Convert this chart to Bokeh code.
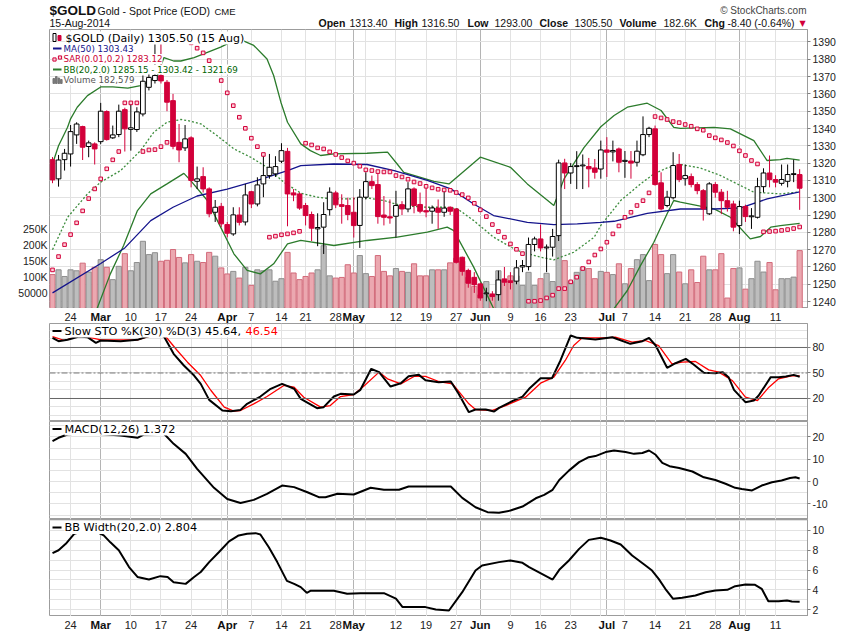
import numpy as np
import pandas as pd
from bokeh.plotting import figure
from bokeh.layouts import column
from bokeh.models import Range1d, LinearAxis, FixedTicker, Grid, Span
from bokeh.core.properties import value
from bokeh.embed import file_html
from bokeh.resources import INLINE

# ---- trading days (Feb 19 .. Aug 15 2014, US holidays removed)
dates = pd.bdate_range("2014-02-19", "2014-08-15")
dates = dates[~dates.isin(pd.to_datetime(["2014-04-18", "2014-05-26", "2014-07-04"]))]

opens = [1322.0, 1310.9, 1322.0, 1325.3, 1336.3, 1341.1, 1329.6, 1331.1, 1332.4, 1349.8,
         1334.6, 1336.5, 1350.9, 1339.5, 1339.4, 1348.4, 1363.8, 1367.7, 1370.6, 1366.7,
         1356.1, 1332.0, 1328.8, 1334.6, 1309.5, 1312.2, 1305.1, 1291.6, 1295.0, 1284.5,
         1279.1, 1290.0, 1286.0, 1303.5, 1296.4, 1308.0, 1312.8, 1313.8, 1321.1, 1326.8,
         1302.8, 1302.2, 1295.5, 1290.3, 1282.0, 1283.0, 1293.1, 1302.8, 1296.0, 1295.5,
         1291.6, 1284.0, 1300.3, 1309.3, 1307.6, 1290.0, 1289.0, 1289.3, 1296.0, 1293.5,
         1305.1, 1296.1, 1292.5, 1292.2, 1294.0, 1291.6, 1294.5, 1293.5, 1265.6, 1258.0,
         1254.0, 1250.2, 1244.5, 1244.4, 1244.0, 1253.1, 1252.0, 1251.8, 1260.0, 1260.2,
         1273.0, 1276.2, 1271.0, 1271.4, 1278.1, 1320.1, 1314.3, 1318.0, 1318.4, 1318.0,
         1317.2, 1316.6, 1327.6, 1326.5, 1328.2, 1321.0, 1321.2, 1320.5, 1324.8, 1336.5,
         1339.8, 1308.6, 1295.5, 1300.0, 1319.2, 1311.0, 1312.2, 1307.6, 1304.1, 1290.7,
         1307.6, 1303.2, 1298.3, 1296.4, 1283.9, 1294.9, 1289.0, 1288.7, 1306.4, 1314.3,
         1310.5, 1308.3, 1309.5, 1313.4, 1313.4]
highs = [1323.5, 1324.7, 1328.2, 1342.0, 1343.6, 1341.6, 1333.0, 1332.0, 1354.8, 1350.5,
         1341.7, 1353.8, 1352.0, 1354.2, 1352.3, 1370.6, 1374.4, 1389.0, 1389.0, 1368.0,
         1360.0, 1342.6, 1342.0, 1335.5, 1318.0, 1317.6, 1306.0, 1298.7, 1297.0, 1286.0,
         1294.5, 1294.5, 1308.0, 1304.0, 1311.8, 1324.4, 1325.3, 1324.0, 1331.5, 1328.8,
         1305.0, 1303.0, 1297.0, 1292.0, 1291.0, 1297.4, 1306.0, 1304.0, 1302.0, 1300.0,
         1300.3, 1305.0, 1314.7, 1312.8, 1315.7, 1301.0, 1299.0, 1304.0, 1298.0, 1309.0,
         1306.0, 1303.0, 1306.0, 1295.5, 1299.0, 1305.0, 1295.0, 1294.0, 1266.0, 1259.0,
         1257.0, 1251.0, 1248.0, 1246.0, 1257.9, 1260.0, 1257.0, 1264.0, 1264.0, 1277.0,
         1277.5, 1284.5, 1273.0, 1282.0, 1322.0, 1322.5, 1320.0, 1326.9, 1325.0, 1323.0,
         1322.4, 1333.0, 1335.0, 1333.0, 1329.0, 1327.0, 1327.0, 1333.0, 1347.0, 1341.0,
         1341.7, 1314.7, 1304.0, 1326.3, 1325.3, 1319.2, 1314.0, 1309.0, 1305.0, 1309.0,
         1309.0, 1305.0, 1304.0, 1298.3, 1298.3, 1296.0, 1294.0, 1311.5, 1317.0, 1324.4,
         1313.0, 1319.2, 1319.2, 1322.0, 1316.5]
lows = [1308.4, 1306.4, 1315.7, 1318.0, 1331.1, 1321.8, 1323.4, 1319.2, 1331.0, 1333.0,
        1334.0, 1335.0, 1326.7, 1327.2, 1338.0, 1347.0, 1362.0, 1366.0, 1366.0, 1350.0,
        1328.0, 1320.5, 1327.0, 1306.0, 1305.0, 1303.0, 1288.7, 1286.0, 1283.0, 1277.2,
        1278.0, 1284.0, 1284.0, 1294.0, 1295.0, 1300.3, 1311.0, 1312.0, 1320.0, 1283.5,
        1298.0, 1293.0, 1284.0, 1275.0, 1272.0, 1267.5, 1289.7, 1294.0, 1285.0, 1287.0,
        1277.0, 1271.0, 1299.0, 1305.0, 1285.0, 1284.0, 1285.0, 1277.0, 1290.0, 1291.6,
        1291.0, 1291.0, 1288.7, 1285.0, 1282.0, 1289.0, 1290.0, 1262.0, 1255.0, 1248.0,
        1245.0, 1240.5, 1240.2, 1240.5, 1240.5, 1249.0, 1247.0, 1250.0, 1257.0, 1258.0,
        1269.0, 1269.0, 1257.0, 1266.0, 1275.0, 1305.0, 1308.0, 1305.0, 1305.0, 1306.0,
        1311.0, 1311.0, 1312.0, 1321.0, 1314.7, 1311.5, 1311.0, 1318.0, 1324.0, 1335.0,
        1307.0, 1292.6, 1294.5, 1299.0, 1309.0, 1307.0, 1306.0, 1302.0, 1286.8, 1290.0,
        1300.0, 1290.5, 1292.0, 1280.6, 1279.0, 1286.0, 1282.0, 1288.0, 1303.0, 1306.0,
        1306.0, 1307.0, 1306.0, 1309.0, 1293.0]
closes = [1310.3, 1321.8, 1325.7, 1338.2, 1342.6, 1329.2, 1331.7, 1328.2, 1350.0, 1333.6,
          1336.3, 1350.0, 1339.8, 1340.4, 1349.6, 1367.3, 1369.5, 1370.6, 1367.5, 1355.2,
          1329.7, 1327.6, 1334.0, 1310.0, 1310.9, 1305.1, 1290.7, 1294.5, 1284.9, 1279.5,
          1290.1, 1285.8, 1301.6, 1296.4, 1307.4, 1312.8, 1317.6, 1318.0, 1327.2, 1302.2,
          1301.6, 1294.0, 1289.7, 1282.4, 1282.8, 1290.3, 1303.2, 1295.9, 1295.0, 1290.3,
          1283.9, 1300.3, 1309.3, 1307.0, 1289.1, 1288.7, 1288.3, 1295.5, 1293.5, 1305.1,
          1295.5, 1292.2, 1291.8, 1294.1, 1291.6, 1294.0, 1292.2, 1262.7, 1257.5, 1250.6,
          1249.8, 1242.1, 1245.0, 1242.9, 1252.5, 1251.2, 1251.0, 1259.5, 1260.8, 1273.0,
          1276.2, 1271.0, 1271.5, 1277.6, 1320.1, 1314.3, 1318.0, 1318.5, 1318.9, 1316.7,
          1314.7, 1327.6, 1326.3, 1327.3, 1320.5, 1321.6, 1320.0, 1326.9, 1336.5, 1340.1,
          1307.6, 1293.5, 1300.3, 1318.6, 1310.5, 1312.8, 1307.6, 1304.1, 1293.5, 1308.0,
          1303.2, 1298.3, 1294.5, 1283.0, 1294.9, 1289.1, 1289.5, 1306.4, 1314.3, 1310.5,
          1309.0, 1310.5, 1313.4, 1313.9, 1305.5]
volume_k = [107, 122, 101, 122, 119, 143, 115, 130, 154, 130,
            91, 133, 173, 119, 145, 212, 170, 176, 149, 152,
            186, 161, 144, 170, 149, 145, 177, 165, 128, 109,
            117, 96, 130, 73, 122, 119, 122, 86, 94, 177,
            112, 91, 101, 112, 122, 198, 103, 96, 98, 138,
            112, 167, 110, 101, 167, 117, 103, 126, 117, 114,
            141, 103, 103, 122, 122, 122, 144, 159, 149, 98,
            70, 43, 85, 43, 119, 85, 103, 103, 73, 114,
            73, 94, 111, 85, 230, 151, 85, 114, 130, 126,
            94, 117, 114, 107, 141, 78, 126, 154, 170, 88,
            202, 170, 110, 170, 115, 78, 122, 82, 165, 122,
            122, 173, 33, 126, 128, 61, 94, 149, 115, 145,
            59, 94, 94, 99, 182.579]
sar = [1258.3, 1266.0, 1272.9, 1278.7, 1285.5, 1292.4, 1299.5, 1305.1, 1310.9, 1316.7,
       1321.9, 1326.7, 1354.8, 1354.8, 1354.8, 1326.7, 1327.6, 1327.8, 1329.5, 1332.0,
       1392.0, 1391.6, 1391.0, 1389.5, 1386.4, 1383.7, 1379.2, 1373.5, 1367.7, 1360.6,
       1353.2, 1346.5, 1340.1, 1334.4, 1329.5, 1325.0, 1277.2, 1277.8, 1278.6, 1279.1,
       1279.7, 1280.6, 1331.5, 1330.5, 1328.8, 1328.2, 1326.5, 1325.0, 1323.2, 1321.3,
       1320.0, 1318.2, 1316.1, 1315.7, 1315.1, 1314.9, 1314.9, 1312.8, 1312.0, 1310.7,
       1309.1, 1308.2, 1306.6, 1305.7, 1304.9, 1304.5, 1304.3, 1303.0, 1301.8, 1299.9,
       1296.8, 1293.0, 1289.1, 1284.5, 1280.5, 1277.2, 1273.3, 1270.2, 1267.7, 1240.2,
       1240.2, 1240.6, 1242.1, 1243.7, 1247.5, 1247.5, 1251.4, 1254.1, 1259.1, 1262.9,
       1266.9, 1270.4, 1274.3, 1279.1, 1283.7, 1288.7, 1291.6, 1295.5, 1298.3, 1302.8,
       1346.9, 1346.1, 1345.2, 1344.0, 1343.4, 1342.3, 1341.3, 1339.8, 1339.0, 1335.9,
       1334.6, 1333.4, 1331.9, 1329.9, 1327.1, 1324.4, 1321.5, 1319.5, 1280.3, 1280.5,
       1280.7, 1281.1, 1281.6, 1282.2, 1283.1]

# indicator curves as (day index, value) vertices
ma50 = [(0, 1245.0), (8, 1262.0), (12, 1271.0), (16.3, 1286.8), (20, 1294.5), (24, 1301.0),
        (29, 1305.0), (34, 1310.0), (39, 1315.7), (41.2, 1318.6), (46.7, 1319.5), (52.2, 1319.2),
        (56.7, 1315.7), (62.2, 1310.0), (66.1, 1305.1), (69.9, 1296.4), (73.2, 1289.7),
        (78.8, 1285.8), (83.2, 1284.5), (87.1, 1284.9), (91, 1285.8), (93.2, 1286.4),
        (98.7, 1291.0), (104.2, 1293.5), (109.8, 1293.5), (114.2, 1294.1), (118.6, 1299.3),
        (124, 1303.4)]
bb_upper = [(0, 1319.5), (1, 1330.0), (2.5, 1340.7), (3, 1345.6), (4.1, 1352.3), (5.8, 1359.0),
            (8, 1364.0), (10, 1364.0), (12.5, 1363.3), (14.6, 1364.8), (16, 1367.0),
            (17.4, 1370.6), (18.5, 1381.0), (20.1, 1379.0), (21.3, 1379.0), (23.5, 1381.0),
            (25.7, 1384.0), (27.9, 1387.0), (30.1, 1390.8), (31.2, 1391.4), (33.4, 1388.0),
            (35.6, 1380.2), (36.7, 1370.6), (37.9, 1355.2), (39, 1343.6), (41.2, 1331.1),
            (42.8, 1327.2), (44.5, 1324.4), (46.7, 1325.3), (52.2, 1325.7), (55.6, 1326.3),
            (57.2, 1319.5), (58.3, 1314.7), (63.3, 1309.5), (65.8, 1308.0), (71, 1323.4),
            (76, 1317.6), (78.8, 1308.0), (83.2, 1295.5), (84.9, 1310.9), (88.2, 1329.0),
            (91, 1341.0), (93.2, 1347.5), (95.4, 1352.3), (98.7, 1354.6), (101, 1350.4),
            (103.1, 1340.7), (104.2, 1340.1), (109.8, 1340.7), (112.5, 1339.8), (116.4, 1333.0),
            (118.6, 1321.5), (120.8, 1322.0), (121.9, 1322.8), (124, 1321.7)]
bb_middle = [(0, 1270.0), (2.5, 1288.7), (5.8, 1302.2), (8, 1309.0), (11.3, 1315.7), (14.6, 1327.2),
             (16.8, 1337.8), (19, 1343.6), (21.3, 1345.2), (22.4, 1344.6), (24.6, 1342.7),
             (27.3, 1335.9), (30.1, 1328.2), (32.9, 1323.4), (35.6, 1317.6), (38.4, 1308.9),
             (41.2, 1302.7), (43.9, 1300.3), (46.7, 1299.3), (49.5, 1299.3), (52.2, 1299.9),
             (55, 1298.4), (57.8, 1295.5), (62.2, 1294.5), (65.5, 1294.5), (67.2, 1293.6),
             (69.9, 1286.8), (73.2, 1277.2), (77.1, 1269.5), (81, 1265.6), (83.2, 1264.1),
             (86.5, 1268.5), (89.9, 1277.2), (91, 1284.0), (94.3, 1298.4), (97.6, 1308.0),
             (99.8, 1313.8), (102, 1317.2), (104.2, 1319.2), (107.5, 1317.2), (110.9, 1312.8),
             (114.2, 1307.0), (116.4, 1303.2), (120.8, 1302.2), (124, 1303.4)]
bb_lower_a = [(7.4, 1236.0), (9.6, 1256.0), (11.8, 1272.4), (14.1, 1292.6), (16.3, 1302.2),
              (19, 1308.0), (21.8, 1314.1), (22.9, 1310.0), (25.7, 1298.4), (27.9, 1283.0),
              (30.1, 1267.6), (32.3, 1258.0), (34.5, 1256.0), (36.7, 1261.8), (39, 1273.4),
              (41.2, 1275.3), (46.7, 1272.4), (52.2, 1275.3), (57.2, 1277.2), (62.2, 1280.1),
              (65.5, 1283.0), (66.6, 1281.0), (69.9, 1259.9), (73.2, 1236.0)]
bb_lower_b = [(93.2, 1236.0), (95.4, 1246.4), (97.6, 1260.9), (99.8, 1274.3), (102, 1290.7),
              (103.1, 1298.4), (104.2, 1297.4), (109.8, 1293.6), (112.5, 1288.7), (115.8, 1276.2),
              (117.5, 1277.6), (119.2, 1283.0), (120.8, 1283.9), (124, 1285.2)]
sto_k = [(0, 91.4), (1, 87.4), (2.5, 89.0), (4.4, 93.0), (5.8, 92.1), (7.2, 85.5), (8, 88.2),
         (11.3, 87.4), (14.1, 89.0), (15.7, 92.9), (17.4, 95.3), (18.5, 92.9), (20.1, 72.5),
         (21.8, 58.8), (23.5, 47.0), (24.6, 37.2), (26, 18.4), (28.2, 5.9), (29.6, 5.1),
         (31.2, 6.6), (32.3, 13.7), (34.5, 22.3), (36.2, 31.4), (38.1, 37.2), (40.1, 31.4),
         (41.2, 19.6), (43.9, 8.6), (45, 9.8), (46.7, 22.3), (47.8, 25.5), (50, 24.7),
         (51.1, 30.2), (52.9, 54.9), (54.2, 51.0), (56.1, 34.1), (57.8, 38.0), (59.1, 46.2),
         (60.8, 47.8), (61.9, 41.5), (64.1, 39.2), (66.1, 40.0), (67.4, 25.5), (69.1, 3.9),
         (70.2, 7.0), (71.9, 7.0), (73.3, 4.7), (74.1, 9.0), (76.3, 16.8), (78, 22.3),
         (79.1, 31.4), (81, 43.9), (82.9, 43.9), (84.3, 64.7), (86, 94.1), (87.1, 91.3),
         (90.1, 89.4), (92.9, 92.1), (95.9, 84.3), (97.9, 87.4), (99, 91.3), (100.1, 82.3),
         (102, 56.1), (103.4, 61.5), (105.1, 66.6), (106.4, 60.0), (108.1, 50.2), (110, 49.8),
         (111.2, 51.0), (112.2, 45.1), (113.1, 30.2), (115, 15.7), (116.4, 17.6), (117.2, 23.5),
         (119.2, 45.1), (120.5, 45.1), (121.7, 45.9), (123, 47.8), (124, 45.64)]
sto_d = [(0, 92.9), (2, 88.2), (4.6, 94.1), (8, 89.0), (14.1, 89.0), (16.3, 93.7), (18.5, 95.3),
         (20.7, 76.4), (22.4, 62.7), (24.6, 47.0), (26.3, 29.4), (28.5, 9.8), (30.1, 5.1),
         (31.2, 5.9), (33.4, 13.7), (35.6, 22.3), (38.4, 35.3), (40.1, 33.3), (41.7, 21.5),
         (44.5, 9.8), (46.1, 11.7), (47.8, 22.3), (50, 24.7), (51.6, 34.1), (54.2, 51.0),
         (55.6, 43.1), (57.8, 37.2), (60, 45.9), (61.9, 46.0), (64.1, 40.0), (66.4, 37.2),
         (69.1, 13.7), (70.2, 7.0), (73, 5.9), (75.2, 11.7), (78.5, 21.5), (81, 38.0),
         (83.2, 45.1), (85.1, 64.7), (86.5, 82.3), (87.9, 91.3), (91.8, 91.3), (93.4, 92.1),
         (96.2, 86.2), (98.4, 88.2), (100.6, 82.3), (102.8, 60.8), (104.5, 62.7), (106.7, 63.5),
         (108.9, 53.7), (110.6, 51.0), (112.8, 41.2), (115, 21.5), (117, 17.6), (118.9, 33.3),
         (120.5, 43.1), (122.8, 47.0), (124, 46.54)]
macd = [(0, 18.1), (1, 19.6), (2.5, 21.1), (5, 21.8), (8.5, 21.2), (11.3, 20.6), (14.1, 19.6),
        (15.2, 21.1), (18.5, 21.4), (20.1, 16.9), (22.1, 12.4), (24, 5.7), (26.8, -2.8),
        (29, -7.8), (31.2, -9.6), (33.4, -8.2), (35.6, -5.5), (38.1, -1.8), (40.1, -2.5),
        (42.3, -4.8), (44.2, -7.0), (45.3, -7.0), (47.3, -5.5), (50, -5.8), (52.8, -2.8),
        (55, -3.7), (57.5, -3.7), (59.1, -2.2), (66.1, -2.2), (68, -7.3), (70.2, -11.5),
        (72.2, -13.7), (74.1, -14.0), (76, -13.0), (78, -11.2), (80.2, -7.5), (81.6, -6.0),
        (83, -3.7), (84.1, 0.7), (85.7, 4.9), (87.4, 8.7), (89, 10.9), (90.1, 11.4),
        (91.8, 13.2), (93.2, 13.9), (95.1, 13.2), (96.5, 12.4), (97.9, 12.8), (99, 13.9),
        (100.1, 12.0), (101.2, 8.4), (102.4, 6.9), (104, 6.1), (106.2, 4.5), (108.1, 1.9),
        (110, 0.7), (111.7, -1.0), (113.3, -2.8), (114.4, -3.3), (116.1, -4.0), (117.7, -1.8),
        (119.4, -0.3), (121, 0.5), (122.4, 1.6), (123.3, 1.9), (124, 1.372)]
bb_width = [(0, 7.7), (1, 8.0), (2.2, 8.65), (3.6, 9.66), (5.5, 10.0), (7.4, 9.83), (8.5, 9.5),
            (9.6, 8.8), (11, 8.0), (12.7, 6.3), (14.1, 5.3), (16, 5.04), (17.9, 5.38), (19.1, 5.3),
            (20.1, 4.77), (22.1, 4.6), (23.5, 5.3), (24.6, 5.8), (26, 6.8), (27.6, 7.8), (29.3, 8.9),
            (30.9, 9.5), (32.3, 9.66), (33.7, 9.73), (34.5, 9.6), (35.9, 8.3), (37.3, 6.8),
            (38.9, 4.9), (40.1, 4.6), (41.2, 4.27), (42.2, 3.7), (42.8, 3.9), (46.7, 3.9),
            (48.9, 3.6), (51.1, 3.66), (55, 3.66), (57, 3.1), (58.1, 2.25), (61.9, 2.25),
            (63.6, 2.0), (65.8, 1.91), (68, 3.76), (70.2, 5.95), (71.3, 6.46), (74.1, 6.8),
            (76, 6.96), (78, 6.73), (79.1, 6.29), (83, 5.04), (84.1, 6.02), (85.7, 6.96),
            (87.4, 8.14), (89, 9.05), (91, 9.26), (92.6, 8.99), (94.3, 8.58), (96.2, 7.47),
            (98.2, 6.56), (99.5, 5.95), (100.6, 5.11), (101.7, 4.1), (103, 3.09), (104.5, 3.19),
            (106.7, 3.42), (108.4, 3.76), (110, 3.93), (112, 4.0), (113.3, 4.37), (115, 4.54),
            (116.6, 4.5), (117.7, 4.1), (118.8, 2.85), (120.5, 2.85), (121.9, 2.92),
            (122.7, 2.82), (124, 2.804)]

price_ticks = list(range(1240, 1391, 10))
vol_ticks = [50000, 100000, 150000, 200000, 250000]
vol_labels = {50000: "50000", 100000: "100K", 150000: "150K", 200000: "200K", 250000: "250K"}

# ---- colours / geometry (page pixels match the picture: frames span x 49..807)
RED = "#d2003a"
GREEN = "#2b7b2b"
NAVY = "#14148c"
OUTLINE = "#9c9c9c"
LIGHT = "#e2e2e2"
DARK = "#b4b4b4"
X0, X1 = -0.5, 125.3
FW = 758
BL, BR = 49, 42
# picture geometry of each panel: top px, bottom px, value low, value high
G_PRICE = (29, 308, 1236.0, 1397.2)
G_STO = (323, 421, -7.06, 108.2)
G_MACD = (421, 519, -17.0, 26.9)
G_BBW = (519, 616, 1.30, 11.11)


def fx(px):
    return X0 + (px - 49.0) * (X1 - X0) / FW


def fy(py, g):
    top, bot, lo, hi = g
    return hi - (py - top) * (hi - lo) / (bot - top)


def xy(pairs):
    return [a for a, b in pairs], [b for a, b in pairs]


n = len(dates)
idx = np.arange(n)
week_idx = [i for i in range(1, n) if dates[i].weekday() < dates[i - 1].weekday()]
month_idx = [i for i in range(1, n) if dates[i].month != dates[i - 1].month]
day_lab_idx = [i for i in week_idx if min(abs(i - m) for m in month_idx) > 2]

xr = Range1d(X0, X1)


def bare(h, x_range, y_range):
    f = figure(frame_width=FW, frame_height=h, x_range=x_range, y_range=y_range,
               x_axis_location=None, y_axis_location=None, tools="", toolbar_location=None,
               output_backend="svg", min_border_left=BL, min_border_right=BR,
               min_border_top=0, min_border_bottom=0)
    f.grid.visible = False
    f.outline_line_color = None
    return f


def panel(g):
    p = figure(frame_width=FW, frame_height=g[1] - g[0], x_range=xr, y_range=Range1d(g[2], g[3]),
               x_axis_location=None, y_axis_location="right", tools="",
               toolbar_location=None, output_backend="svg",
               min_border_left=BL, min_border_right=BR, min_border_top=0, min_border_bottom=0)
    p.grid.visible = False
    p.outline_line_color = OUTLINE
    p.border_fill_color = "white"
    p.add_layout(Grid(dimension=0, ticker=FixedTicker(ticks=week_idx), grid_line_color=LIGHT))
    p.add_layout(Grid(dimension=0, ticker=FixedTicker(ticks=month_idx), grid_line_color=DARK))
    return p


def style_axis(ax, ticks, overrides=None):
    ax.ticker = FixedTicker(ticks=ticks)
    ax.axis_line_color = OUTLINE
    ax.major_tick_line_color = "#808080"
    ax.major_tick_out = 3
    ax.major_tick_in = 0
    ax.minor_tick_line_color = None
    ax.major_label_standoff = 2
    ax.major_label_text_font = "Liberation Sans"
    ax.major_label_text_font_size = "10.5px"
    ax.major_label_text_color = "#222222"
    if overrides:
        ax.major_label_overrides = overrides


def hgrid(p, ticks):
    p.add_layout(Grid(dimension=1, ticker=FixedTicker(ticks=ticks), grid_line_color=LIGHT))


def legend_text(p, px, py, g, text, color, size):
    p.text(x=[fx(px)], y=[fy(py, g)], text=[text], text_color=color,
           text_font=value("DejaVu Sans"), text_font_size=value(size),
           text_align="left", text_baseline="middle",
           background_fill_color="white", background_fill_alpha=1.0)


def swatch(p, px0, px1, py, g, color, w=2):
    p.segment(x0=[fx(px0)], y0=[fy(py, g)], x1=[fx(px1)], y1=[fy(py, g)],
              line_color=color, line_width=w)


def box(p, px0, px1, py0, py1, g, fill, line):
    p.quad(left=[fx(px0)], right=[fx(px1)], top=[fy(py0, g)], bottom=[fy(py1, g)],
           fill_color=fill, line_color=line, line_width=1)


# ---- header (data coordinates = picture pixels)
head = bare(29, Range1d(49, 49 + FW), Range1d(29, 0))


def htext(x, y, t, size, style="normal", color="#111111", align="left", font="Liberation Sans"):
    head.text(x=[x], y=[y], text=[t], text_font=value(font), text_font_size=value(size),
              text_font_style=style, text_color=color, text_align=align,
              text_baseline="middle")


htext(49, 10, "$GOLD", "13.5px", "bold")
htext(97, 10, "Gold - Spot Price (EOD)", "10.5px")
htext(214, 10.5, "CME", "9.5px")
htext(806, 10, "\u00a9 StockCharts.com", "10px", color="#444444", align="right")
htext(49, 22.5, "15-Aug-2014", "10.5px")
for xp, t, st in [(318, "Open", "bold"), (349, "1313.40", "normal"), (394, "High", "bold"),
                  (421, "1316.50", "normal"), (467, "Low", "bold"), (494, "1293.00", "normal"),
                  (539, "Close", "bold"), (574, "1305.50", "normal"), (619, "Volume", "bold"),
                  (663, "182.6K", "normal"), (704, "Chg", "bold"), (727, "-8.40 (-0.64%)", "normal")]:
    htext(xp, 22.5, t, "10.5px", st)
htext(799, 22.5, "\u25bc", "8px", color=RED, font="DejaVu Sans")

# ---- price panel
pp = panel(G_PRICE)
style_axis(pp.yaxis[0], price_ticks)
hgrid(pp, price_ticks)
pp.extra_y_ranges = {"vol": Range1d(0, 880000)}
vax = LinearAxis(y_range_name="vol")
style_axis(vax, vol_ticks, vol_labels)
vax.major_tick_out = 0
vax.axis_line_color = None
pp.add_layout(vax, "left")

o = np.array(opens)
c = np.array(closes)
prev = np.r_[o[0], c[:-1]]
col = np.where(c >= prev, "black", RED)
fill = np.where(c > o, "white", col)
vol_fill = np.where(c >= prev, "#bdbdbd", "#eba8b0")
vol_line = np.where(c >= prev, "#8e8e8e", "#d26a7a")

pp.vbar(x=idx, top=np.array(volume_k) * 1000, bottom=0, width=0.86, y_range_name="vol",
        fill_color=vol_fill, line_color=vol_line, line_width=1)

for pts in (bb_upper, bb_lower_a, bb_lower_b):
    xs, ys = xy(pts)
    pp.line(xs, ys, line_color=GREEN, line_width=1.3)
xs, ys = xy(bb_middle)
pp.line(xs, ys, line_color="#3c8c3c", line_width=1.3, line_dash="2 2")
xs, ys = xy(ma50)
pp.line(xs, ys, line_color=NAVY, line_width=1.3)

pp.segment(x0=idx, y0=lows, x1=idx, y1=highs, line_color=col, line_width=1)
pp.vbar(x=idx, top=np.maximum(o, c), bottom=np.minimum(o, c), width=0.78,
        fill_color=fill, line_color=col, line_width=1)
pp.scatter(idx, sar, marker="square", size=3.6, fill_color="#ffd0da", line_color=RED, line_width=1)

# price legend
box(pp, 52.5, 55.5, 33, 41, G_PRICE, "white", "black")
box(pp, 57.5, 60.5, 35, 40, G_PRICE, RED, RED)
legend_text(pp, 65, 37.5, G_PRICE, "$GOLD (Daily) 1305.50 (15 Aug)", "#000000", "11px")
swatch(pp, 52.5, 61, 48, G_PRICE, NAVY)
legend_text(pp, 63, 48, G_PRICE, "MA(50) 1303.43", NAVY, "8.7px")
pp.scatter([fx(54), fx(59.5)], [fy(59, G_PRICE), fy(57, G_PRICE)], marker="square", size=3.2,
           fill_color="#ffd0da", line_color=RED)
legend_text(pp, 63, 58.5, G_PRICE, "SAR(0.01,0.2) 1283.12", "#cc0033", "8.7px")
swatch(pp, 52.5, 61, 69, G_PRICE, GREEN)
legend_text(pp, 63, 69, G_PRICE, "BB(20,2.0) 1285.15 - 1303.42 - 1321.69", "#006400", "8.7px")
for bx, top in [(52.5, 78), (55, 76), (57.5, 77.5), (60, 79)]:
    box(pp, bx, bx + 1.6, top, 83, G_PRICE, "#777777", "#777777")
legend_text(pp, 63, 79.5, G_PRICE, "Volume 182,579", "#555555", "8.7px")


# ---- date label strips
def strip(h, ty):
    s = bare(h, xr, Range1d(h, 0))
    s.text(x=day_lab_idx, y=[ty] * len(day_lab_idx), text=[str(dates[i].day) for i in day_lab_idx],
           text_font=value("Liberation Sans"), text_font_size=value("11px"), text_color="#222222",
           text_align="center", text_baseline="middle")
    s.text(x=month_idx, y=[ty] * len(month_idx), text=[dates[i].strftime("%b") for i in month_idx],
           text_font=value("Liberation Sans"), text_font_size=value("11.5px"), text_font_style="bold",
           text_color="#111111", text_align="center", text_baseline="middle")
    return s


strip_top = strip(15, 8.0)

# ---- slow stochastics
ps = panel(G_STO)
style_axis(ps.yaxis[0], [20, 50, 80])
hgrid(ps, list(range(0, 101, 10)))
for lv in (80, 20):
    ps.add_layout(Span(location=lv, dimension="width", line_color="#666666", line_width=1))
ps.add_layout(Span(location=50, dimension="width", line_color="#777777", line_width=1,
                   line_dash="6 2 2 2"))
xs, ys = xy(sto_d)
ps.line(xs, ys, line_color="#ff0000", line_width=1.3)
xs, ys = xy(sto_k)
ps.line(xs, ys, line_color="black", line_width=2)
swatch(ps, 52, 61, 330.5, G_STO, "black")
legend_text(ps, 64, 330.5, G_STO, "Slow STO %K(30) %D(3) 45.64, ", "#000000", "11.3px")
legend_text(ps, 245, 330.5, G_STO, "46.54", "#ff0000", "11.3px")

# ---- MACD
pm = panel(G_MACD)
style_axis(pm.yaxis[0], [-10, 0, 10, 20], {-10: "-10"})
hgrid(pm, list(range(-15, 26, 5)))
xs, ys = xy(macd)
pm.line(xs, ys, line_color="black", line_width=2)
swatch(pm, 52, 61, 428.5, G_MACD, "black")
legend_text(pm, 64, 428.5, G_MACD, "MACD(12,26) 1.372", "#000000", "11.3px")

# ---- BB width
pb = panel(G_BBW)
style_axis(pb.yaxis[0], [2, 4, 6, 8, 10])
hgrid(pb, list(range(2, 12)))
xs, ys = xy(bb_width)
pb.line(xs, ys, line_color="black", line_width=2)
swatch(pb, 52, 61, 527, G_BBW, "black")
legend_text(pb, 64, 527, G_BBW, "BB Width(20,2.0) 2.804", "#000000", "11.3px")

strip_bottom = strip(16, 8.0)

layout = column(head, pp, strip_top, ps, pm, pb, strip_bottom)
open("out.html", "w").write(file_html(layout, INLINE))
